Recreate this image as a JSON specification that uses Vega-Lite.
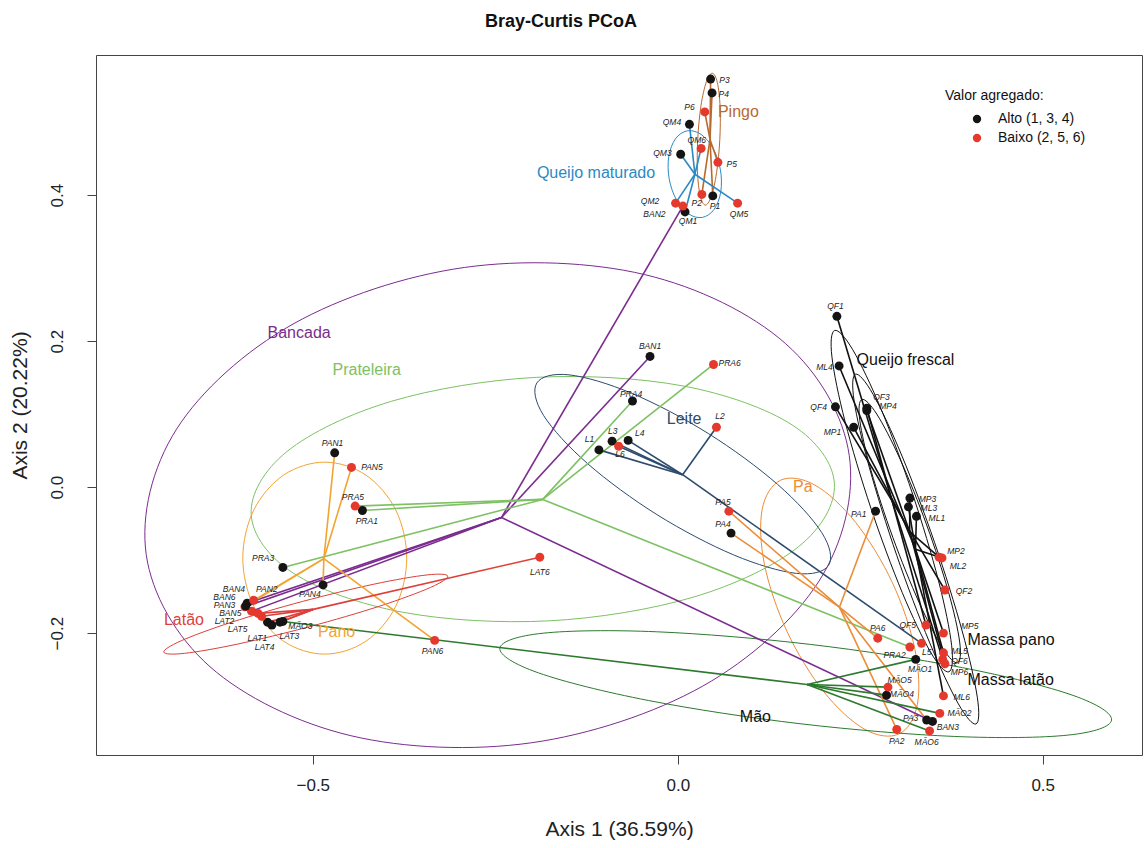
{
  "$schema": "https://vega.github.io/schema/vega-lite/v6.json",
  "width": 1046,
  "height": 700,
  "autosize": "none",
  "padding": {"left": 96, "top": 55, "right": 3, "bottom": 93},
  "background": "white",
  "title": {
    "text": "Bray-Curtis PCoA",
    "font": "Liberation Sans",
    "fontSize": 18,
    "fontWeight": "bold",
    "color": "#111111",
    "anchor": "middle",
    "dx": -58,
    "offset": 24
  },
  "datasets": {
    "amostras": [
      {"id": "P1", "grp": "Pingo", "valor": "Alto (1, 3, 4)", "x": 0.048, "y": 0.399, "lx": 0.051, "ly": 0.385},
      {"id": "P2", "grp": "Pingo", "valor": "Baixo (2, 5, 6)", "x": 0.033, "y": 0.401, "lx": 0.026, "ly": 0.389},
      {"id": "P3", "grp": "Pingo", "valor": "Alto (1, 3, 4)", "x": 0.045, "y": 0.559, "lx": 0.064, "ly": 0.558},
      {"id": "P4", "grp": "Pingo", "valor": "Alto (1, 3, 4)", "x": 0.047, "y": 0.540, "lx": 0.063, "ly": 0.538},
      {"id": "P5", "grp": "Pingo", "valor": "Baixo (2, 5, 6)", "x": 0.055, "y": 0.445, "lx": 0.074, "ly": 0.442},
      {"id": "P6", "grp": "Pingo", "valor": "Baixo (2, 5, 6)", "x": 0.037, "y": 0.514, "lx": 0.016, "ly": 0.521},
      {"id": "QM1", "grp": "Queijo maturado", "valor": "Alto (1, 3, 4)", "x": 0.010, "y": 0.377, "lx": 0.014, "ly": 0.364},
      {"id": "QM2", "grp": "Queijo maturado", "valor": "Baixo (2, 5, 6)", "x": -0.003, "y": 0.389, "lx": -0.038, "ly": 0.392},
      {"id": "QM3", "grp": "Queijo maturado", "valor": "Alto (1, 3, 4)", "x": 0.004, "y": 0.456, "lx": -0.021, "ly": 0.458},
      {"id": "QM4", "grp": "Queijo maturado", "valor": "Alto (1, 3, 4)", "x": 0.016, "y": 0.497, "lx": -0.008, "ly": 0.500},
      {"id": "QM5", "grp": "Queijo maturado", "valor": "Baixo (2, 5, 6)", "x": 0.082, "y": 0.389, "lx": 0.084, "ly": 0.374},
      {"id": "QM6", "grp": "Queijo maturado", "valor": "Baixo (2, 5, 6)", "x": 0.032, "y": 0.464, "lx": 0.026, "ly": 0.475},
      {"id": "BAN1", "grp": "Bancada", "valor": "Alto (1, 3, 4)", "x": -0.038, "y": 0.179, "lx": -0.038, "ly": 0.193},
      {"id": "BAN2", "grp": "Bancada", "valor": "Baixo (2, 5, 6)", "x": 0.007, "y": 0.385, "lx": -0.032, "ly": 0.374},
      {"id": "BAN3", "grp": "Bancada", "valor": "Alto (1, 3, 4)", "x": 0.349, "y": -0.321, "lx": 0.370, "ly": -0.329},
      {"id": "BAN4", "grp": "Bancada", "valor": "Alto (1, 3, 4)", "x": -0.590, "y": -0.159, "lx": -0.608, "ly": -0.140},
      {"id": "BAN5", "grp": "Bancada", "valor": "Baixo (2, 5, 6)", "x": -0.584, "y": -0.170, "lx": -0.613, "ly": -0.173},
      {"id": "BAN6", "grp": "Bancada", "valor": "Baixo (2, 5, 6)", "x": -0.593, "y": -0.164, "lx": -0.621, "ly": -0.151},
      {"id": "PRA1", "grp": "Prateleira", "valor": "Alto (1, 3, 4)", "x": -0.432, "y": -0.032, "lx": -0.426, "ly": -0.047},
      {"id": "PRA2", "grp": "Prateleira", "valor": "Baixo (2, 5, 6)", "x": 0.318, "y": -0.219, "lx": 0.297, "ly": -0.230},
      {"id": "PRA3", "grp": "Prateleira", "valor": "Alto (1, 3, 4)", "x": -0.541, "y": -0.110, "lx": -0.568, "ly": -0.097},
      {"id": "PRA4", "grp": "Prateleira", "valor": "Alto (1, 3, 4)", "x": -0.062, "y": 0.118, "lx": -0.064, "ly": 0.127},
      {"id": "PRA5", "grp": "Prateleira", "valor": "Baixo (2, 5, 6)", "x": -0.442, "y": -0.026, "lx": -0.445, "ly": -0.014},
      {"id": "PRA6", "grp": "Prateleira", "valor": "Baixo (2, 5, 6)", "x": 0.049, "y": 0.168, "lx": 0.071, "ly": 0.170},
      {"id": "L1", "grp": "Leite", "valor": "Alto (1, 3, 4)", "x": -0.108, "y": 0.051, "lx": -0.121, "ly": 0.066},
      {"id": "L2", "grp": "Leite", "valor": "Baixo (2, 5, 6)", "x": 0.053, "y": 0.082, "lx": 0.058, "ly": 0.097},
      {"id": "L3", "grp": "Leite", "valor": "Alto (1, 3, 4)", "x": -0.090, "y": 0.063, "lx": -0.089, "ly": 0.077},
      {"id": "L4", "grp": "Leite", "valor": "Alto (1, 3, 4)", "x": -0.068, "y": 0.064, "lx": -0.052, "ly": 0.074},
      {"id": "L5", "grp": "Leite", "valor": "Baixo (2, 5, 6)", "x": 0.334, "y": -0.214, "lx": 0.341, "ly": -0.226},
      {"id": "L6", "grp": "Leite", "valor": "Baixo (2, 5, 6)", "x": -0.081, "y": 0.056, "lx": -0.079, "ly": 0.045},
      {"id": "PA1", "grp": "Pa", "valor": "Alto (1, 3, 4)", "x": 0.271, "y": -0.033, "lx": 0.248, "ly": -0.037},
      {"id": "PA2", "grp": "Pa", "valor": "Baixo (2, 5, 6)", "x": 0.300, "y": -0.332, "lx": 0.300, "ly": -0.348},
      {"id": "PA3", "grp": "Pa", "valor": "Alto (1, 3, 4)", "x": 0.341, "y": -0.319, "lx": 0.319, "ly": -0.316},
      {"id": "PA4", "grp": "Pa", "valor": "Alto (1, 3, 4)", "x": 0.073, "y": -0.063, "lx": 0.062, "ly": -0.051},
      {"id": "PA5", "grp": "Pa", "valor": "Baixo (2, 5, 6)", "x": 0.070, "y": -0.033, "lx": 0.062, "ly": -0.021},
      {"id": "PA6", "grp": "Pa", "valor": "Baixo (2, 5, 6)", "x": 0.274, "y": -0.207, "lx": 0.274, "ly": -0.193},
      {"id": "PAN1", "grp": "Pano", "valor": "Alto (1, 3, 4)", "x": -0.470, "y": 0.047, "lx": -0.473, "ly": 0.060},
      {"id": "PAN2", "grp": "Pano", "valor": "Baixo (2, 5, 6)", "x": -0.581, "y": -0.155, "lx": -0.563, "ly": -0.140},
      {"id": "PAN3", "grp": "Pano", "valor": "Alto (1, 3, 4)", "x": -0.592, "y": -0.163, "lx": -0.621, "ly": -0.162},
      {"id": "PAN4", "grp": "Pano", "valor": "Alto (1, 3, 4)", "x": -0.486, "y": -0.134, "lx": -0.504, "ly": -0.147},
      {"id": "PAN5", "grp": "Pano", "valor": "Baixo (2, 5, 6)", "x": -0.447, "y": 0.027, "lx": -0.419, "ly": 0.027},
      {"id": "PAN6", "grp": "Pano", "valor": "Baixo (2, 5, 6)", "x": -0.333, "y": -0.210, "lx": -0.336, "ly": -0.225},
      {"id": "LAT1", "grp": "Latão", "valor": "Alto (1, 3, 4)", "x": -0.562, "y": -0.185, "lx": -0.576, "ly": -0.207},
      {"id": "LAT2", "grp": "Latão", "valor": "Baixo (2, 5, 6)", "x": -0.575, "y": -0.173, "lx": -0.621, "ly": -0.184},
      {"id": "LAT3", "grp": "Latão", "valor": "Alto (1, 3, 4)", "x": -0.545, "y": -0.185, "lx": -0.532, "ly": -0.204},
      {"id": "LAT4", "grp": "Latão", "valor": "Alto (1, 3, 4)", "x": -0.556, "y": -0.189, "lx": -0.566, "ly": -0.219},
      {"id": "LAT5", "grp": "Latão", "valor": "Baixo (2, 5, 6)", "x": -0.570, "y": -0.177, "lx": -0.603, "ly": -0.195},
      {"id": "LAT6", "grp": "Latão", "valor": "Baixo (2, 5, 6)", "x": -0.189, "y": -0.096, "lx": -0.189, "ly": -0.116},
      {"id": "MÃO1", "grp": "Mão", "valor": "Alto (1, 3, 4)", "x": 0.326, "y": -0.236, "lx": 0.332, "ly": -0.249},
      {"id": "MÃO2", "grp": "Mão", "valor": "Baixo (2, 5, 6)", "x": 0.359, "y": -0.310, "lx": 0.386, "ly": -0.310},
      {"id": "MÃO3", "grp": "Mão", "valor": "Alto (1, 3, 4)", "x": -0.541, "y": -0.184, "lx": -0.517, "ly": -0.190},
      {"id": "MÃO4", "grp": "Mão", "valor": "Alto (1, 3, 4)", "x": 0.286, "y": -0.285, "lx": 0.307, "ly": -0.284},
      {"id": "MÃO5", "grp": "Mão", "valor": "Baixo (2, 5, 6)", "x": 0.288, "y": -0.274, "lx": 0.304, "ly": -0.264},
      {"id": "MÃO6", "grp": "Mão", "valor": "Baixo (2, 5, 6)", "x": 0.345, "y": -0.334, "lx": 0.341, "ly": -0.349},
      {"id": "QF1", "grp": "Queijo frescal", "valor": "Alto (1, 3, 4)", "x": 0.218, "y": 0.234, "lx": 0.216, "ly": 0.248},
      {"id": "QF2", "grp": "Queijo frescal", "valor": "Baixo (2, 5, 6)", "x": 0.366, "y": -0.141, "lx": 0.392, "ly": -0.142},
      {"id": "QF3", "grp": "Queijo frescal", "valor": "Alto (1, 3, 4)", "x": 0.259, "y": 0.108, "lx": 0.279, "ly": 0.123},
      {"id": "QF4", "grp": "Queijo frescal", "valor": "Alto (1, 3, 4)", "x": 0.216, "y": 0.110, "lx": 0.193, "ly": 0.110},
      {"id": "QF5", "grp": "Queijo frescal", "valor": "Baixo (2, 5, 6)", "x": 0.340, "y": -0.189, "lx": 0.315, "ly": -0.189},
      {"id": "QF6", "grp": "Queijo frescal", "valor": "Baixo (2, 5, 6)", "x": 0.363, "y": -0.236, "lx": 0.386, "ly": -0.238},
      {"id": "MP1", "grp": "Massa pano", "valor": "Alto (1, 3, 4)", "x": 0.241, "y": 0.082, "lx": 0.212, "ly": 0.075},
      {"id": "MP2", "grp": "Massa pano", "valor": "Baixo (2, 5, 6)", "x": 0.358, "y": -0.096, "lx": 0.381, "ly": -0.088},
      {"id": "MP3", "grp": "Massa pano", "valor": "Alto (1, 3, 4)", "x": 0.318, "y": -0.015, "lx": 0.342, "ly": -0.016},
      {"id": "MP4", "grp": "Massa pano", "valor": "Alto (1, 3, 4)", "x": 0.259, "y": 0.105, "lx": 0.288, "ly": 0.111},
      {"id": "MP5", "grp": "Massa pano", "valor": "Baixo (2, 5, 6)", "x": 0.364, "y": -0.200, "lx": 0.400, "ly": -0.190},
      {"id": "MP6", "grp": "Massa pano", "valor": "Baixo (2, 5, 6)", "x": 0.366, "y": -0.242, "lx": 0.386, "ly": -0.253},
      {"id": "ML1", "grp": "Massa latão", "valor": "Alto (1, 3, 4)", "x": 0.327, "y": -0.040, "lx": 0.355, "ly": -0.042},
      {"id": "ML2", "grp": "Massa latão", "valor": "Baixo (2, 5, 6)", "x": 0.362, "y": -0.097, "lx": 0.384, "ly": -0.108},
      {"id": "ML3", "grp": "Massa latão", "valor": "Alto (1, 3, 4)", "x": 0.316, "y": -0.027, "lx": 0.344, "ly": -0.029},
      {"id": "ML4", "grp": "Massa latão", "valor": "Alto (1, 3, 4)", "x": 0.221, "y": 0.166, "lx": 0.201, "ly": 0.164},
      {"id": "ML5", "grp": "Massa latão", "valor": "Baixo (2, 5, 6)", "x": 0.364, "y": -0.227, "lx": 0.386, "ly": -0.224},
      {"id": "ML6", "grp": "Massa latão", "valor": "Baixo (2, 5, 6)", "x": 0.364, "y": -0.286, "lx": 0.389, "ly": -0.288}
    ],
    "elipses": [
      {"grp": "Bancada", "k": 0, "x": 0.2350, "y": 0.0430},
      {"grp": "Bancada", "k": 1, "x": 0.1934, "y": -0.1289},
      {"grp": "Bancada", "k": 2, "x": 0.0339, "y": -0.2728},
      {"grp": "Bancada", "k": 3, "x": -0.2008, "y": -0.3503},
      {"grp": "Bancada", "k": 4, "x": -0.4477, "y": -0.3406},
      {"grp": "Bancada", "k": 5, "x": -0.6408, "y": -0.2461},
      {"grp": "Bancada", "k": 6, "x": -0.7282, "y": -0.0924},
      {"grp": "Bancada", "k": 7, "x": -0.6866, "y": 0.0795},
      {"grp": "Bancada", "k": 8, "x": -0.5271, "y": 0.2234},
      {"grp": "Bancada", "k": 9, "x": -0.2924, "y": 0.3009},
      {"grp": "Bancada", "k": 10, "x": -0.0455, "y": 0.2912},
      {"grp": "Bancada", "k": 11, "x": 0.1476, "y": 0.1967},
      {"grp": "Prateleira", "k": 0, "x": 0.2146, "y": 0.0046},
      {"grp": "Prateleira", "k": 1, "x": 0.1655, "y": -0.0816},
      {"grp": "Prateleira", "k": 2, "x": 0.0224, "y": -0.1504},
      {"grp": "Prateleira", "k": 3, "x": -0.1761, "y": -0.1832},
      {"grp": "Prateleira", "k": 4, "x": -0.3770, "y": -0.1714},
      {"grp": "Prateleira", "k": 5, "x": -0.5265, "y": -0.1180},
      {"grp": "Prateleira", "k": 6, "x": -0.5844, "y": -0.0374},
      {"grp": "Prateleira", "k": 7, "x": -0.5353, "y": 0.0488},
      {"grp": "Prateleira", "k": 8, "x": -0.3922, "y": 0.1176},
      {"grp": "Prateleira", "k": 9, "x": -0.1937, "y": 0.1504},
      {"grp": "Prateleira", "k": 10, "x": 0.0072, "y": 0.1386},
      {"grp": "Prateleira", "k": 11, "x": 0.1567, "y": 0.0852},
      {"grp": "Leite", "k": 0, "x": 0.2067, "y": -0.1070},
      {"grp": "Leite", "k": 1, "x": 0.1625, "y": -0.1182},
      {"grp": "Leite", "k": 2, "x": 0.0766, "y": -0.0929},
      {"grp": "Leite", "k": 3, "x": -0.0280, "y": -0.0380},
      {"grp": "Leite", "k": 4, "x": -0.1232, "y": 0.0319},
      {"grp": "Leite", "k": 5, "x": -0.1837, "y": 0.0980},
      {"grp": "Leite", "k": 6, "x": -0.1931, "y": 0.1426},
      {"grp": "Leite", "k": 7, "x": -0.1489, "y": 0.1538},
      {"grp": "Leite", "k": 8, "x": -0.0630, "y": 0.1285},
      {"grp": "Leite", "k": 9, "x": 0.0416, "y": 0.0736},
      {"grp": "Leite", "k": 10, "x": 0.1368, "y": 0.0037},
      {"grp": "Leite", "k": 11, "x": 0.1973, "y": -0.0624},
      {"grp": "Pa", "k": 0, "x": 0.3030, "y": -0.3382},
      {"grp": "Pa", "k": 1, "x": 0.2560, "y": -0.3317},
      {"grp": "Pa", "k": 2, "x": 0.2001, "y": -0.2804},
      {"grp": "Pa", "k": 3, "x": 0.1498, "y": -0.1980},
      {"grp": "Pa", "k": 4, "x": 0.1189, "y": -0.1066},
      {"grp": "Pa", "k": 5, "x": 0.1156, "y": -0.0307},
      {"grp": "Pa", "k": 6, "x": 0.1408, "y": 0.0094},
      {"grp": "Pa", "k": 7, "x": 0.1878, "y": 0.0029},
      {"grp": "Pa", "k": 8, "x": 0.2437, "y": -0.0484},
      {"grp": "Pa", "k": 9, "x": 0.2940, "y": -0.1308},
      {"grp": "Pa", "k": 10, "x": 0.3249, "y": -0.2222},
      {"grp": "Pa", "k": 11, "x": 0.3282, "y": -0.2981},
      {"grp": "Pano", "k": 0, "x": -0.4836, "y": -0.2288},
      {"grp": "Pano", "k": 1, "x": -0.5398, "y": -0.2112},
      {"grp": "Pano", "k": 2, "x": -0.5809, "y": -0.1631},
      {"grp": "Pano", "k": 3, "x": -0.5959, "y": -0.0973},
      {"grp": "Pano", "k": 4, "x": -0.5809, "y": -0.0315},
      {"grp": "Pano", "k": 5, "x": -0.5398, "y": 0.0166},
      {"grp": "Pano", "k": 6, "x": -0.4836, "y": 0.0342},
      {"grp": "Pano", "k": 7, "x": -0.4274, "y": 0.0166},
      {"grp": "Pano", "k": 8, "x": -0.3863, "y": -0.0315},
      {"grp": "Pano", "k": 9, "x": -0.3713, "y": -0.0973},
      {"grp": "Pano", "k": 10, "x": -0.3863, "y": -0.1631},
      {"grp": "Pano", "k": 11, "x": -0.4274, "y": -0.2112},
      {"grp": "Latão", "k": 0, "x": -0.3151, "y": -0.1219},
      {"grp": "Latão", "k": 1, "x": -0.3389, "y": -0.1375},
      {"grp": "Latão", "k": 2, "x": -0.4082, "y": -0.1630},
      {"grp": "Latão", "k": 3, "x": -0.5049, "y": -0.1913},
      {"grp": "Latão", "k": 4, "x": -0.6028, "y": -0.2150},
      {"grp": "Latão", "k": 5, "x": -0.6757, "y": -0.2277},
      {"grp": "Latão", "k": 6, "x": -0.7041, "y": -0.2261},
      {"grp": "Latão", "k": 7, "x": -0.6803, "y": -0.2105},
      {"grp": "Latão", "k": 8, "x": -0.6110, "y": -0.1850},
      {"grp": "Latão", "k": 9, "x": -0.5143, "y": -0.1567},
      {"grp": "Latão", "k": 10, "x": -0.4164, "y": -0.1330},
      {"grp": "Latão", "k": 11, "x": -0.3435, "y": -0.1203},
      {"grp": "Mão", "k": 0, "x": 0.5943, "y": -0.3191},
      {"grp": "Mão", "k": 1, "x": 0.5350, "y": -0.3397},
      {"grp": "Mão", "k": 2, "x": 0.3793, "y": -0.3416},
      {"grp": "Mão", "k": 3, "x": 0.1689, "y": -0.3243},
      {"grp": "Mão", "k": 4, "x": -0.0397, "y": -0.2924},
      {"grp": "Mão", "k": 5, "x": -0.1908, "y": -0.2545},
      {"grp": "Mão", "k": 6, "x": -0.2437, "y": -0.2207},
      {"grp": "Mão", "k": 7, "x": -0.1844, "y": -0.2001},
      {"grp": "Mão", "k": 8, "x": -0.0287, "y": -0.1982},
      {"grp": "Mão", "k": 9, "x": 0.1817, "y": -0.2155},
      {"grp": "Mão", "k": 10, "x": 0.3903, "y": -0.2474},
      {"grp": "Mão", "k": 11, "x": 0.5414, "y": -0.2853},
      {"grp": "Queijo frescal", "k": 0, "x": 0.3714, "y": -0.2530},
      {"grp": "Queijo frescal", "k": 1, "x": 0.3466, "y": -0.2265},
      {"grp": "Queijo frescal", "k": 2, "x": 0.3075, "y": -0.1444},
      {"grp": "Queijo frescal", "k": 3, "x": 0.2646, "y": -0.0288},
      {"grp": "Queijo frescal", "k": 4, "x": 0.2293, "y": 0.0894},
      {"grp": "Queijo frescal", "k": 5, "x": 0.2112, "y": 0.1785},
      {"grp": "Queijo frescal", "k": 6, "x": 0.2150, "y": 0.2146},
      {"grp": "Queijo frescal", "k": 7, "x": 0.2398, "y": 0.1881},
      {"grp": "Queijo frescal", "k": 8, "x": 0.2789, "y": 0.1060},
      {"grp": "Queijo frescal", "k": 9, "x": 0.3218, "y": -0.0096},
      {"grp": "Queijo frescal", "k": 10, "x": 0.3571, "y": -0.1278},
      {"grp": "Queijo frescal", "k": 11, "x": 0.3752, "y": -0.2169},
      {"grp": "Massa pano", "k": 0, "x": 0.3834, "y": -0.2406},
      {"grp": "Massa pano", "k": 1, "x": 0.3630, "y": -0.2207},
      {"grp": "Massa pano", "k": 2, "x": 0.3305, "y": -0.1578},
      {"grp": "Massa pano", "k": 3, "x": 0.2946, "y": -0.0688},
      {"grp": "Massa pano", "k": 4, "x": 0.2649, "y": 0.0224},
      {"grp": "Massa pano", "k": 5, "x": 0.2494, "y": 0.0915},
      {"grp": "Massa pano", "k": 6, "x": 0.2522, "y": 0.1200},
      {"grp": "Massa pano", "k": 7, "x": 0.2726, "y": 0.1001},
      {"grp": "Massa pano", "k": 8, "x": 0.3051, "y": 0.0372},
      {"grp": "Massa pano", "k": 9, "x": 0.3410, "y": -0.0518},
      {"grp": "Massa pano", "k": 10, "x": 0.3707, "y": -0.1430},
      {"grp": "Massa pano", "k": 11, "x": 0.3862, "y": -0.2121},
      {"grp": "Massa latão", "k": 0, "x": 0.4085, "y": -0.3245},
      {"grp": "Massa latão", "k": 1, "x": 0.3844, "y": -0.2969},
      {"grp": "Massa latão", "k": 2, "x": 0.3448, "y": -0.2124},
      {"grp": "Massa latão", "k": 3, "x": 0.3001, "y": -0.0938},
      {"grp": "Massa latão", "k": 4, "x": 0.2624, "y": 0.0272},
      {"grp": "Massa latão", "k": 5, "x": 0.2416, "y": 0.1181},
      {"grp": "Massa latão", "k": 6, "x": 0.2435, "y": 0.1547},
      {"grp": "Massa latão", "k": 7, "x": 0.2676, "y": 0.1271},
      {"grp": "Massa latão", "k": 8, "x": 0.3072, "y": 0.0426},
      {"grp": "Massa latão", "k": 9, "x": 0.3519, "y": -0.0760},
      {"grp": "Massa latão", "k": 10, "x": 0.3896, "y": -0.1970},
      {"grp": "Massa latão", "k": 11, "x": 0.4104, "y": -0.2879},
      {"grp": "Pingo", "k": 0, "x": 0.0377, "y": 0.3864},
      {"grp": "Pingo", "k": 1, "x": 0.0308, "y": 0.3989},
      {"grp": "Pingo", "k": 2, "x": 0.0270, "y": 0.4323},
      {"grp": "Pingo", "k": 3, "x": 0.0274, "y": 0.4775},
      {"grp": "Pingo", "k": 4, "x": 0.0318, "y": 0.5225},
      {"grp": "Pingo", "k": 5, "x": 0.0392, "y": 0.5553},
      {"grp": "Pingo", "k": 6, "x": 0.0473, "y": 0.5670},
      {"grp": "Pingo", "k": 7, "x": 0.0542, "y": 0.5545},
      {"grp": "Pingo", "k": 8, "x": 0.0580, "y": 0.5211},
      {"grp": "Pingo", "k": 9, "x": 0.0576, "y": 0.4759},
      {"grp": "Pingo", "k": 10, "x": 0.0532, "y": 0.4309},
      {"grp": "Pingo", "k": 11, "x": 0.0458, "y": 0.3981},
      {"grp": "Queijo maturado", "k": 0, "x": 0.0337, "y": 0.3695},
      {"grp": "Queijo maturado", "k": 1, "x": 0.0148, "y": 0.3743},
      {"grp": "Queijo maturado", "k": 2, "x": -0.0019, "y": 0.3937},
      {"grp": "Queijo maturado", "k": 3, "x": -0.0118, "y": 0.4226},
      {"grp": "Queijo maturado", "k": 4, "x": -0.0123, "y": 0.4531},
      {"grp": "Queijo maturado", "k": 5, "x": -0.0032, "y": 0.4771},
      {"grp": "Queijo maturado", "k": 6, "x": 0.0129, "y": 0.4881},
      {"grp": "Queijo maturado", "k": 7, "x": 0.0318, "y": 0.4833},
      {"grp": "Queijo maturado", "k": 8, "x": 0.0485, "y": 0.4639},
      {"grp": "Queijo maturado", "k": 9, "x": 0.0584, "y": 0.4350},
      {"grp": "Queijo maturado", "k": 10, "x": 0.0589, "y": 0.4045},
      {"grp": "Queijo maturado", "k": 11, "x": 0.0498, "y": 0.3805}
    ],
    "grupos": [
      {"grp": "Pingo", "rotulo": "Pingo", "x": 0.055, "y": 0.514},
      {"grp": "Queijo maturado", "rotulo": "Queijo maturado", "x": -0.193, "y": 0.430},
      {"grp": "Bancada", "rotulo": "Bancada", "x": -0.562, "y": 0.211},
      {"grp": "Prateleira", "rotulo": "Prateleira", "x": -0.473, "y": 0.160},
      {"grp": "Leite", "rotulo": "Leite", "x": -0.015, "y": 0.093},
      {"grp": "Pa", "rotulo": "Pa", "x": 0.158, "y": 0.000},
      {"grp": "Pano", "rotulo": "Pano", "x": -0.493, "y": -0.199},
      {"grp": "Latão", "rotulo": "Latão", "x": -0.704, "y": -0.182},
      {"grp": "Mão", "rotulo": "Mão", "x": 0.085, "y": -0.315},
      {"grp": "Queijo frescal", "rotulo": "Queijo frescal", "x": 0.245, "y": 0.174},
      {"grp": "Massa pano", "rotulo": "Massa pano", "x": 0.397, "y": -0.210},
      {"grp": "Massa latão", "rotulo": "Massa latão", "x": 0.397, "y": -0.264}
    ]
  },
  "layer": [
    {
      "data": {"name": "elipses"},
      "mark": {"type": "line", "interpolate": "cardinal-closed", "strokeWidth": 1, "clip": true},
      "encoding": {
        "x": {
          "field": "x", "type": "quantitative",
          "scale": {"domain": [-0.797, 0.636], "nice": false, "zero": false},
          "axis": {"title": "Axis 1 (36.59%)", "values": [-0.5, 0, 0.5], "format": ".1f"}
        },
        "y": {
          "field": "y", "type": "quantitative",
          "scale": {"domain": [-0.367, 0.592], "nice": false, "zero": false},
          "axis": {"title": "Axis 2 (20.22%)", "values": [-0.2, 0, 0.2, 0.4], "format": ".1f"}
        },
        "order": {"field": "k", "type": "quantitative"},
        "detail": {"field": "grp"},
        "stroke": {
          "field": "grp", "type": "nominal", "legend": null,
          "scale": {
            "domain": ["Pingo", "Queijo maturado", "Bancada", "Prateleira", "Leite", "Pa", "Pano", "Latão", "Mão", "Queijo frescal", "Massa pano", "Massa latão"],
            "range": ["#B8692E", "#2A8AC4", "#7B2C8F", "#7DC163", "#2D4B6E", "#EC8C37", "#F2A431", "#DD3F3A", "#2D7A2F", "#111111", "#111111", "#111111"]
          }
        }
      }
    },
    {
      "data": {"name": "amostras"},
      "transform": [
        {"joinaggregate": [{"op": "mean", "field": "x", "as": "cx"}, {"op": "mean", "field": "y", "as": "cy"}], "groupby": ["grp"]}
      ],
      "mark": {"type": "rule", "strokeWidth": 1.6, "clip": true},
      "encoding": {
        "x": {"field": "cx", "type": "quantitative", "axis": {"title": "Axis 1 (36.59%)", "values": [-0.5, 0, 0.5], "format": ".1f"}},
        "y": {"field": "cy", "type": "quantitative", "axis": {"title": "Axis 2 (20.22%)", "values": [-0.2, 0, 0.2, 0.4], "format": ".1f"}},
        "x2": {"field": "x"},
        "y2": {"field": "y"},
        "stroke": {"field": "grp", "type": "nominal", "legend": null}
      }
    },
    {
      "data": {"name": "amostras"},
      "mark": {"type": "point", "filled": true, "shape": "circle", "size": 80, "opacity": 1},
      "encoding": {
        "x": {"field": "x", "type": "quantitative", "axis": {"title": "Axis 1 (36.59%)", "values": [-0.5, 0, 0.5], "format": ".1f"}},
        "y": {"field": "y", "type": "quantitative", "axis": {"title": "Axis 2 (20.22%)", "values": [-0.2, 0, 0.2, 0.4], "format": ".1f"}},
        "color": {
          "field": "valor", "type": "nominal",
          "scale": {"domain": ["Alto (1, 3, 4)", "Baixo (2, 5, 6)"], "range": ["#141414", "#E5392D"]},
          "legend": {
            "title": "Valor agregado:",
            "orient": "none",
            "legendX": 849,
            "legendY": 34,
            "symbolOffset": 25,
            "labelOffset": 14,
            "symbolSize": 70,
            "symbolStrokeWidth": 0,
            "titleFont": "Liberation Sans",
            "titleFontSize": 14,
            "titleFontWeight": "normal",
            "titleColor": "#111111",
            "titlePadding": 9,
            "labelFont": "Liberation Sans",
            "labelFontSize": 14,
            "labelColor": "#111111",
            "rowPadding": 5
          }
        }
      }
    },
    {
      "data": {"name": "amostras"},
      "mark": {"type": "text", "font": "Liberation Sans", "fontSize": 8.5, "fontStyle": "italic", "color": "#222222", "align": "center", "baseline": "middle"},
      "encoding": {
        "x": {"field": "lx", "type": "quantitative", "axis": {"title": "Axis 1 (36.59%)", "values": [-0.5, 0, 0.5], "format": ".1f"}},
        "y": {"field": "ly", "type": "quantitative", "axis": {"title": "Axis 2 (20.22%)", "values": [-0.2, 0, 0.2, 0.4], "format": ".1f"}},
        "text": {"field": "id"}
      }
    },
    {
      "data": {"name": "grupos"},
      "mark": {"type": "text", "font": "Liberation Sans", "fontSize": 16, "align": "left", "baseline": "middle"},
      "encoding": {
        "x": {"field": "x", "type": "quantitative", "axis": {"title": "Axis 1 (36.59%)", "values": [-0.5, 0, 0.5], "format": ".1f"}},
        "y": {"field": "y", "type": "quantitative", "axis": {"title": "Axis 2 (20.22%)", "values": [-0.2, 0, 0.2, 0.4], "format": ".1f"}},
        "text": {"field": "rotulo"},
        "fill": {
          "field": "grp", "type": "nominal", "legend": null,
          "scale": {
            "domain": ["Pingo", "Queijo maturado", "Bancada", "Prateleira", "Leite", "Pa", "Pano", "Latão", "Mão", "Queijo frescal", "Massa pano", "Massa latão"],
            "range": ["#B8692E", "#2A8AC4", "#7B2C8F", "#7DC163", "#2D4B6E", "#EC8C37", "#F2A431", "#DD3F3A", "#111111", "#111111", "#111111", "#111111"]
          }
        }
      }
    }
  ],
  "config": {
    "view": {"stroke": "#444444", "strokeWidth": 1},
    "axis": {
      "grid": false,
      "domain": false,
      "ticks": true,
      "tickSize": 9,
      "tickColor": "#444444",
      "labelFont": "Liberation Sans",
      "labelFontSize": 17,
      "labelColor": "#222222",
      "titleFont": "Liberation Sans",
      "titleFontSize": 21,
      "titleFontWeight": "normal",
      "titleColor": "#222222"
    },
    "axisX": {"labelPadding": 13, "titlePadding": 25},
    "axisY": {"labelAngle": -90, "labelAlign": "center", "labelBaseline": "bottom", "labelPadding": 21, "titlePadding": 18}
  }
}
